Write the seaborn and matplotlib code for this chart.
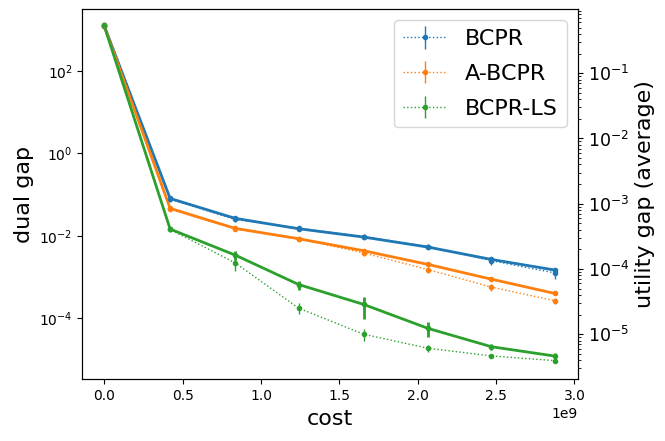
import numpy as np
import matplotlib
matplotlib.use("Agg")
import matplotlib.pyplot as plt
from matplotlib.ticker import NullLocator
import seaborn as sns

# cost axis (x 1e9)
cost = np.array([0, 0.42, 0.835, 1.24, 1.655, 2.065, 2.47, 2.875]) * 1e9

methods = ['BCPR', 'A-BCPR', 'BCPR-LS']

# dual gap (left axis, solid lines)
dual_bcpr = [1230, 0.081, 0.0266, 0.0149, 0.00935, 0.00535, 0.00268, 0.00148]
dual_abcpr = [1230, 0.0465, 0.0152, 0.00853, 0.00436, 0.00203, 0.00089, 0.0004]
dual_ls = [1230, 0.0146, 0.00342, 0.00066, 0.000217, 5.7e-5, 2.04e-5, 1.21e-5]

# relative errors of dual gap
dual_err_bcpr = [0, 0.08, 0.08, 0.06, 0.06, 0.08, 0.08, 0.1]
dual_err_abcpr = [0, 0.06, 0.06, 0.05, 0.06, 0.08, 0.08, 0.1]
dual_err_ls = [0, 0.08, 0.25, 0.25, 0.55, 0.4, 0.18, 0.2]

# utility gap average (right axis, dotted lines)
util_bcpr = [0.555, 1.17e-3, 5.74e-4, 4.23e-4, 3.14e-4, 2.21e-4, 1.34e-4, 8.7e-5]
util_abcpr = [0.555, 8.18e-4, 4.12e-4, 2.9e-4, 1.76e-4, 9.8e-5, 5.28e-5, 3.26e-5]
util_ls = [0.555, 4.03e-4, 1.24e-4, 2.51e-5, 1.0e-5, 6.1e-6, 4.65e-6, 3.94e-6]

util_err_bcpr = [0, 0.08, 0.1, 0.06, 0.08, 0.1, 0.15, 0.2]
util_err_abcpr = [0, 0.06, 0.06, 0.06, 0.1, 0.12, 0.12, 0.1]
util_err_ls = [0, 0.08, 0.25, 0.2, 0.22, 0.12, 0.08, 0.08]

colors = sns.color_palette("tab10", 3)

fig, ax1 = plt.subplots(figsize=(6.65, 4.41), dpi=100)
ax2 = ax1.twinx()

dual = [dual_bcpr, dual_abcpr, dual_ls]
dual_err = [dual_err_bcpr, dual_err_abcpr, dual_err_ls]
util = [util_bcpr, util_abcpr, util_ls]
util_err = [util_err_bcpr, util_err_abcpr, util_err_ls]

for name, c, y, e in zip(methods, colors, dual, dual_err):
    y = np.array(y)
    ax1.errorbar(cost, y, yerr=y * np.array(e), fmt='.-', color=c, linewidth=2, markersize=6)

for name, c, y, e in zip(methods, colors, util, util_err):
    y = np.array(y)
    ax2.errorbar(cost, y, yerr=y * np.array(e), fmt='.:', color=c, linewidth=1, markersize=6, label=name)

ax1.set_yscale('log')
ax2.set_yscale('log')
ax1.set_ylim(10 ** -5.48, 10 ** 3.5)
ax2.set_ylim(10 ** -5.69, 10 ** -0.02)
ax1.set_xlim(-0.1404e9, 3.023e9)
ax1.set_yticks([1e-4, 1e-2, 1e0, 1e2])
ax1.yaxis.set_minor_locator(NullLocator())

ax1.set_xlabel('cost', fontsize=16)
ax1.set_ylabel('dual gap', fontsize=16)
ax2.set_ylabel('utility gap (average)', fontsize=16)
ax2.tick_params(axis='y', labelsize=12.5)

ax2.legend(loc='upper right', fontsize=16, labelspacing=0.66)

fig.subplots_adjust(left=0.1238, right=0.8692, bottom=0.140, top=0.979)
fig.savefig('out.png', dpi=100)
